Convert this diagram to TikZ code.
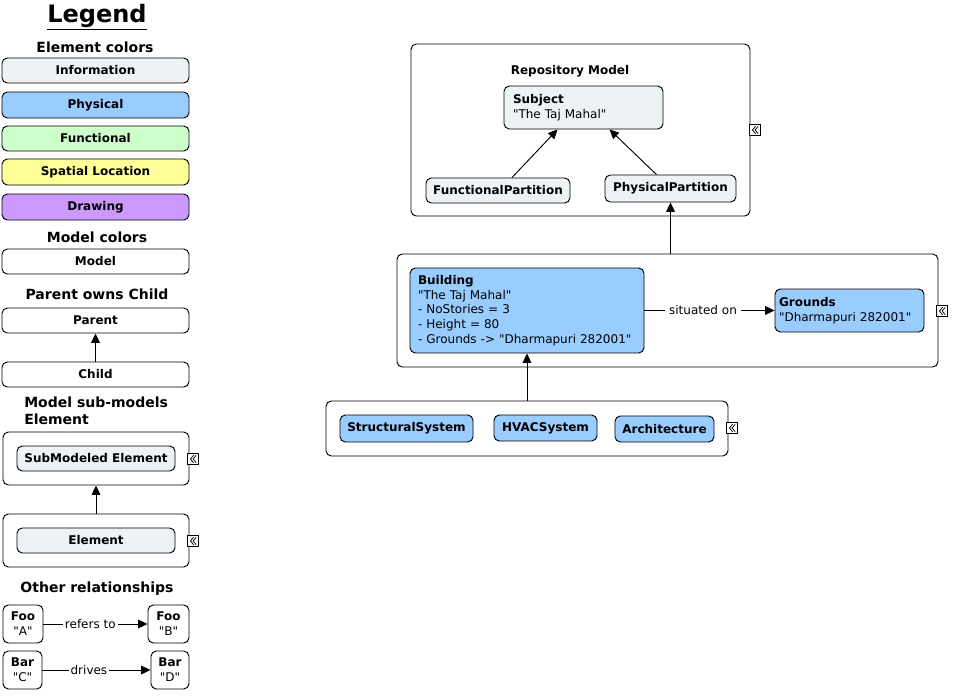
\documentclass[tikz,border=0pt]{standalone}
\usepackage{fontspec}
\setmainfont{DejaVu Sans}[Ligatures=TeXOff]
\usetikzlibrary{arrows.meta,calc}
\definecolor{infoc}{HTML}{EDF3F5}
\definecolor{physc}{HTML}{99CCFF}
\definecolor{funcc}{HTML}{CCFFCC}
\definecolor{spatc}{HTML}{FFFF99}
\definecolor{drawc}{HTML}{CC99FF}
\newcommand\fsA{\fontsize{9}{11.1}\selectfont}
\newcommand\fsB{\fontsize{10.5}{12.5}\selectfont}
\begin{document}
\begin{tikzpicture}[x=0.75pt,y=-0.75pt,
  base/.style={draw=black, line width=0.7pt, rounded corners=4pt, inner sep=0pt, font=\fsA\bfseries, align=center},
  plain/.style={base, fill=white},
  info/.style={base, fill=infoc},
  phys/.style={base, fill=physc},
  func/.style={base, fill=funcc},
  spat/.style={base, fill=spatc},
  drw/.style={base, fill=drawc},
  sz/.style 2 args={minimum width=#1*0.75pt, minimum height=#2*0.75pt},
  tw/.style={text width=#1*0.75pt, align=left, font=\fsA},
  heading/.style={font=\fsB\bfseries, inner sep=0pt},
  lbl/.style={font=\fsA, fill=white, inner sep=1.5pt},
  arr/.style={line width=0.7pt, -{Triangle[length=7pt,width=6.5pt]}},
  icon/.style={draw, fill=white, line width=0.6pt, minimum size=8.5pt, inner sep=0pt,
    path picture={
      \draw[line width=0.55pt] ([shift={(0.4pt,2.8pt)}]path picture bounding box.center) -- ++(-2.3pt,-2.8pt) -- ++(2.3pt,-2.8pt);
      \draw[line width=0.55pt] ([shift={(2.4pt,2.8pt)}]path picture bounding box.center) -- ++(-2.3pt,-2.8pt) -- ++(2.3pt,-2.8pt);
    }},
]
\useasboundingbox (0,0) rectangle (957,697);

% ---------------- Legend ----------------
\node[font=\fontsize{18}{21}\selectfont\bfseries, inner sep=0pt] (lt) at (97,17) {\underline{Legend}};
\node[heading] (h1) at (95,47) {Element colors};
\node[info, sz={187}{25}] (li) at (95.5,70.5) {Information};
\node[phys, sz={187}{26}] (lp) at (95.5,105) {Physical};
\node[func, sz={187}{25}] (lf) at (95.5,138.5) {Functional};
\node[spat, sz={187}{26}] (ls) at (95.5,172) {Spatial Location};
\node[drw, sz={187}{26}] (ld) at (95.5,207) {Drawing};
\node[heading] (h2) at (97,237) {Model colors};
\node[plain, sz={187}{25}] (lm) at (95.5,261.5) {Model};
\node[heading] (h3) at (97,294) {Parent owns Child};
\node[plain, sz={187}{25}] (lpar) at (95.5,320.5) {Parent};
\node[plain, sz={187}{25}] (lch) at (95.5,374.5) {Child};
\draw[arr] (lch) -- (lpar);
\node[heading, anchor=north west, align=left, font=\fontsize{10.5}{12.5}\selectfont\bfseries] (h4) at (24,397) {Model sub-models\\Element};
\node[plain, sz={186}{53}] (lo1) at (96,458.5) {};
\node[info, sz={158}{25}] (lsub) at (96,458.5) {SubModeled Element};
\node[icon] (ic1) at (193,459) {};
\node[plain, sz={186}{53}] (lo2) at (96,540.5) {};
\node[info, sz={158}{25}] (lel) at (96,540.5) {Element};
\node[icon] (ic2) at (193,541) {};
\draw[arr] (lo2) -- (lo1);
\node[heading] (h5) at (97,589) {Other relationships};
\node[plain, sz={40}{38}] (fa) at (23,624) {Foo\\\mdseries"A"};
\node[plain, sz={41}{38}] (fb) at (168.5,624) {Foo\\\mdseries"B"};
\node[plain, sz={39}{38}] (bc) at (22.5,670) {Bar\\\mdseries"C"};
\node[plain, sz={38}{38}] (bd) at (170,670) {Bar\\\mdseries"D"};
\draw[arr] (fa) -- node[lbl, pos=0.45] {refers to} (fb);
\draw[arr] (bc) -- node[lbl, pos=0.43] {drives} (bd);

% ---------------- Repository Model ----------------
\node[plain, sz={339}{172}] (repo) at (580.5,130) {};
\node[font=\fsA\bfseries, inner sep=0pt] (repot) at (570,71) {Repository Model};
\node[icon] (ic3) at (755,130) {};
\node[info, sz={159}{43}, tw={141}] (subj) at (583.5,107.5) {\textbf{Subject}\\"The Taj Mahal"};
\node[info, sz={144}{25}] (fp) at (498,190.5) {FunctionalPartition};
\node[info, sz={131}{27}] (pp) at (670.5,188.5) {PhysicalPartition};
\draw[arr] ([xshift=14*0.75pt]fp.north) -- ([xshift=-26*0.75pt]subj.south);
\draw[arr] ([xshift=-14*0.75pt]pp.north) -- ([xshift=26*0.75pt]subj.south);

% ---------------- Building model ----------------
\node[plain, sz={541}{113}] (bo) at (667.5,310.5) {};
\node[icon] (ic4) at (942,311) {};
\node[phys, sz={234}{85}, tw={218}] (bld) at (527,310.5) {\textbf{Building}\\"The Taj Mahal"\\- NoStories = 3\\- Height = 80\\- Grounds -> "Dharmapuri 282001"};
\node[phys, sz={149}{43}, tw={141}] (gr) at (849.5,310.5) {\textbf{Grounds}\\"Dharmapuri 282001"};
\draw[arr] (bld) -- node[lbl, pos=0.45, inner sep=3pt] {situated on} (gr);
\draw[arr] (pp.south |- bo.north) -- (pp.south);

% ---------------- Systems model ----------------
\node[plain, sz={402}{55}] (so) at (527,428.5) {};
\node[icon] (ic5) at (732,428) {};
\node[phys, sz={133}{27}] (ss) at (406.5,428.5) {StructuralSystem};
\node[phys, sz={103}{26}] (hv) at (545.5,428) {HVACSystem};
\node[phys, sz={99}{26}] (ar) at (664.5,429) {Architecture};
\draw[arr] (bld.south |- so.north) -- (bld.south);
\end{tikzpicture}
\end{document}
